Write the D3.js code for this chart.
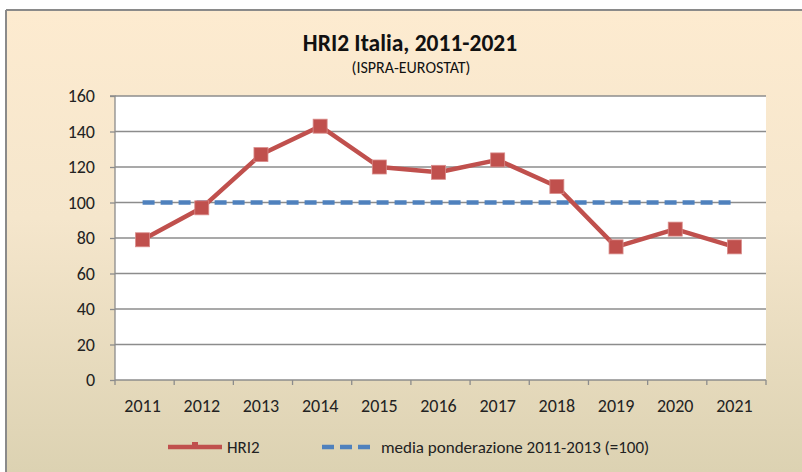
<!DOCTYPE html>
<html><head><meta charset="utf-8">
<script src="https://cdn.jsdelivr.net/npm/d3@7"></script>
<style>html,body{margin:0;padding:0;background:#fff;}svg{display:block;}</style>
</head><body>
<svg id="c" width="802" height="472"></svg>
<script>
const years = ["2011","2012","2013","2014","2015","2016","2017","2018","2019","2020","2021"];
const hri2 = [79, 97, 127, 143, 120, 117, 124, 109, 75, 85, 75];
const baseline = [100,100,100,100,100,100,100,100,100,100,100];
const yTicks = [0,20,40,60,80,100,120,140,160];
const title = "HRI2 Italia, 2011-2021";
const subtitle = "(ISPRA-EUROSTAT)";
const legendLabels = ["HRI2", "media ponderazione 2011-2013 (=100)"];

const font = "Carlito, Calibri, Lato, sans-serif";
const svg = d3.select("#c");
const defs = svg.append("defs");
const g = defs.append("linearGradient").attr("id","bg").attr("x1",0).attr("y1",0).attr("x2",0).attr("y2",1);
g.append("stop").attr("offset","0%").attr("stop-color","#fdebd0");
g.append("stop").attr("offset","45%").attr("stop-color","#f5e6cc");
g.append("stop").attr("offset","100%").attr("stop-color","#dcd2b2");

svg.append("rect").attr("x",6).attr("y",10).attr("width",796).attr("height",462).attr("fill","url(#bg)");
svg.append("line").attr("x1",6).attr("x2",802).attr("y1",10).attr("y2",10).attr("stroke","#8a8a8a").attr("stroke-width",2);
svg.append("line").attr("x1",6).attr("x2",6).attr("y1",10).attr("y2",472).attr("stroke","#8a8a8a").attr("stroke-width",2);

const L=115, R=766, T=96, B=380;
const x = d3.scaleBand().domain(years).range([L,R]);
const y = d3.scaleLinear().domain([0,160]).range([B,T]);

svg.append("rect").attr("x",L).attr("y",T).attr("width",R-L).attr("height",B-T).attr("fill","#fff");

// gridlines
svg.append("g").selectAll("line").data(yTicks.filter(d=>d>0)).join("line")
  .attr("x1",L).attr("x2",R).attr("y1",d=>y(d)).attr("y2",d=>y(d))
  .attr("stroke","#8c8c8c").attr("stroke-width",1.3);

// y axis
const ya = svg.append("g").attr("transform",`translate(${L},0)`)
  .call(d3.axisLeft(y).tickValues(yTicks).tickSize(5).tickPadding(14));
ya.select(".domain").attr("stroke","#8c8c8c").attr("stroke-width",1.3).attr("d",`M-5,${T}H0V${B}`);
ya.selectAll(".tick line").attr("stroke","#8c8c8c").attr("stroke-width",1.3);
ya.selectAll("text").attr("font-family",font).attr("font-size",18).attr("fill","#222").attr("dx",-1);

// x axis
const xa = svg.append("g").attr("transform",`translate(0,${B})`)
  .call(d3.axisBottom(x).tickSize(0).tickPadding(19));
xa.select(".domain").attr("stroke","#8c8c8c").attr("stroke-width",1.3).attr("d",`M${L},0H${R}`);
xa.selectAll("text").attr("font-family",font).attr("font-size",18).attr("fill","#222").attr("dx",-2);
const bounds = years.map(d=>x(d)).concat([R]);
xa.selectAll(".xt").data(bounds).join("line").attr("class","xt")
  .attr("x1",d=>d).attr("x2",d=>d).attr("y1",0).attr("y2",5)
  .attr("stroke","#8c8c8c").attr("stroke-width",1.3);

const cx = d => x(d)+x.bandwidth()/2 - 2;

// baseline dashed
svg.append("path").datum(baseline)
  .attr("d", d3.line().x((d,i)=>cx(years[i])).y(d=>y(d)))
  .attr("fill","none").attr("stroke","#4f81bd").attr("stroke-width",4.5).attr("stroke-dasharray","12,6");

// HRI2 line
svg.append("path").datum(hri2)
  .attr("d", d3.line().x((d,i)=>cx(years[i])).y(d=>y(d)))
  .attr("fill","none").attr("stroke","#c0504d").attr("stroke-width",4.5).attr("stroke-linejoin","round");
svg.append("g").selectAll("rect").data(hri2).join("rect")
  .attr("x",(d,i)=>cx(years[i])-7).attr("y",d=>y(d)-7).attr("width",14).attr("height",14)
  .attr("fill","#c0504d").attr("stroke","#d98c8a").attr("stroke-width",0.8);

// title
svg.append("text").attr("x",410).attr("y",51).attr("text-anchor","middle")
  .attr("font-family",font).attr("font-weight","bold").attr("font-size",23.5).attr("fill","#111").text(title);
svg.append("text").attr("x",411).attr("y",73).attr("text-anchor","middle")
  .attr("font-family",font).attr("font-size",16).attr("fill","#111").text(subtitle);

// legend
const ly = 447;
svg.append("line").attr("x1",168).attr("x2",222).attr("y1",ly).attr("y2",ly).attr("stroke","#c0504d").attr("stroke-width",4.5);
svg.append("rect").attr("x",192).attr("y",ly-5).attr("width",6).attr("height",5).attr("fill","#c0504d");
svg.append("text").attr("x",227).attr("y",ly+6).attr("font-family",font).attr("font-size",17).attr("fill","#222").text(legendLabels[0]);
svg.append("line").attr("x1",322).attr("x2",370).attr("y1",ly).attr("y2",ly).attr("stroke","#4f81bd").attr("stroke-width",4.5).attr("stroke-dasharray","12,6");
svg.append("text").attr("x",381).attr("y",ly+6).attr("font-family",font).attr("font-size",17).attr("fill","#222").text(legendLabels[1]);
</script>
</body></html>
